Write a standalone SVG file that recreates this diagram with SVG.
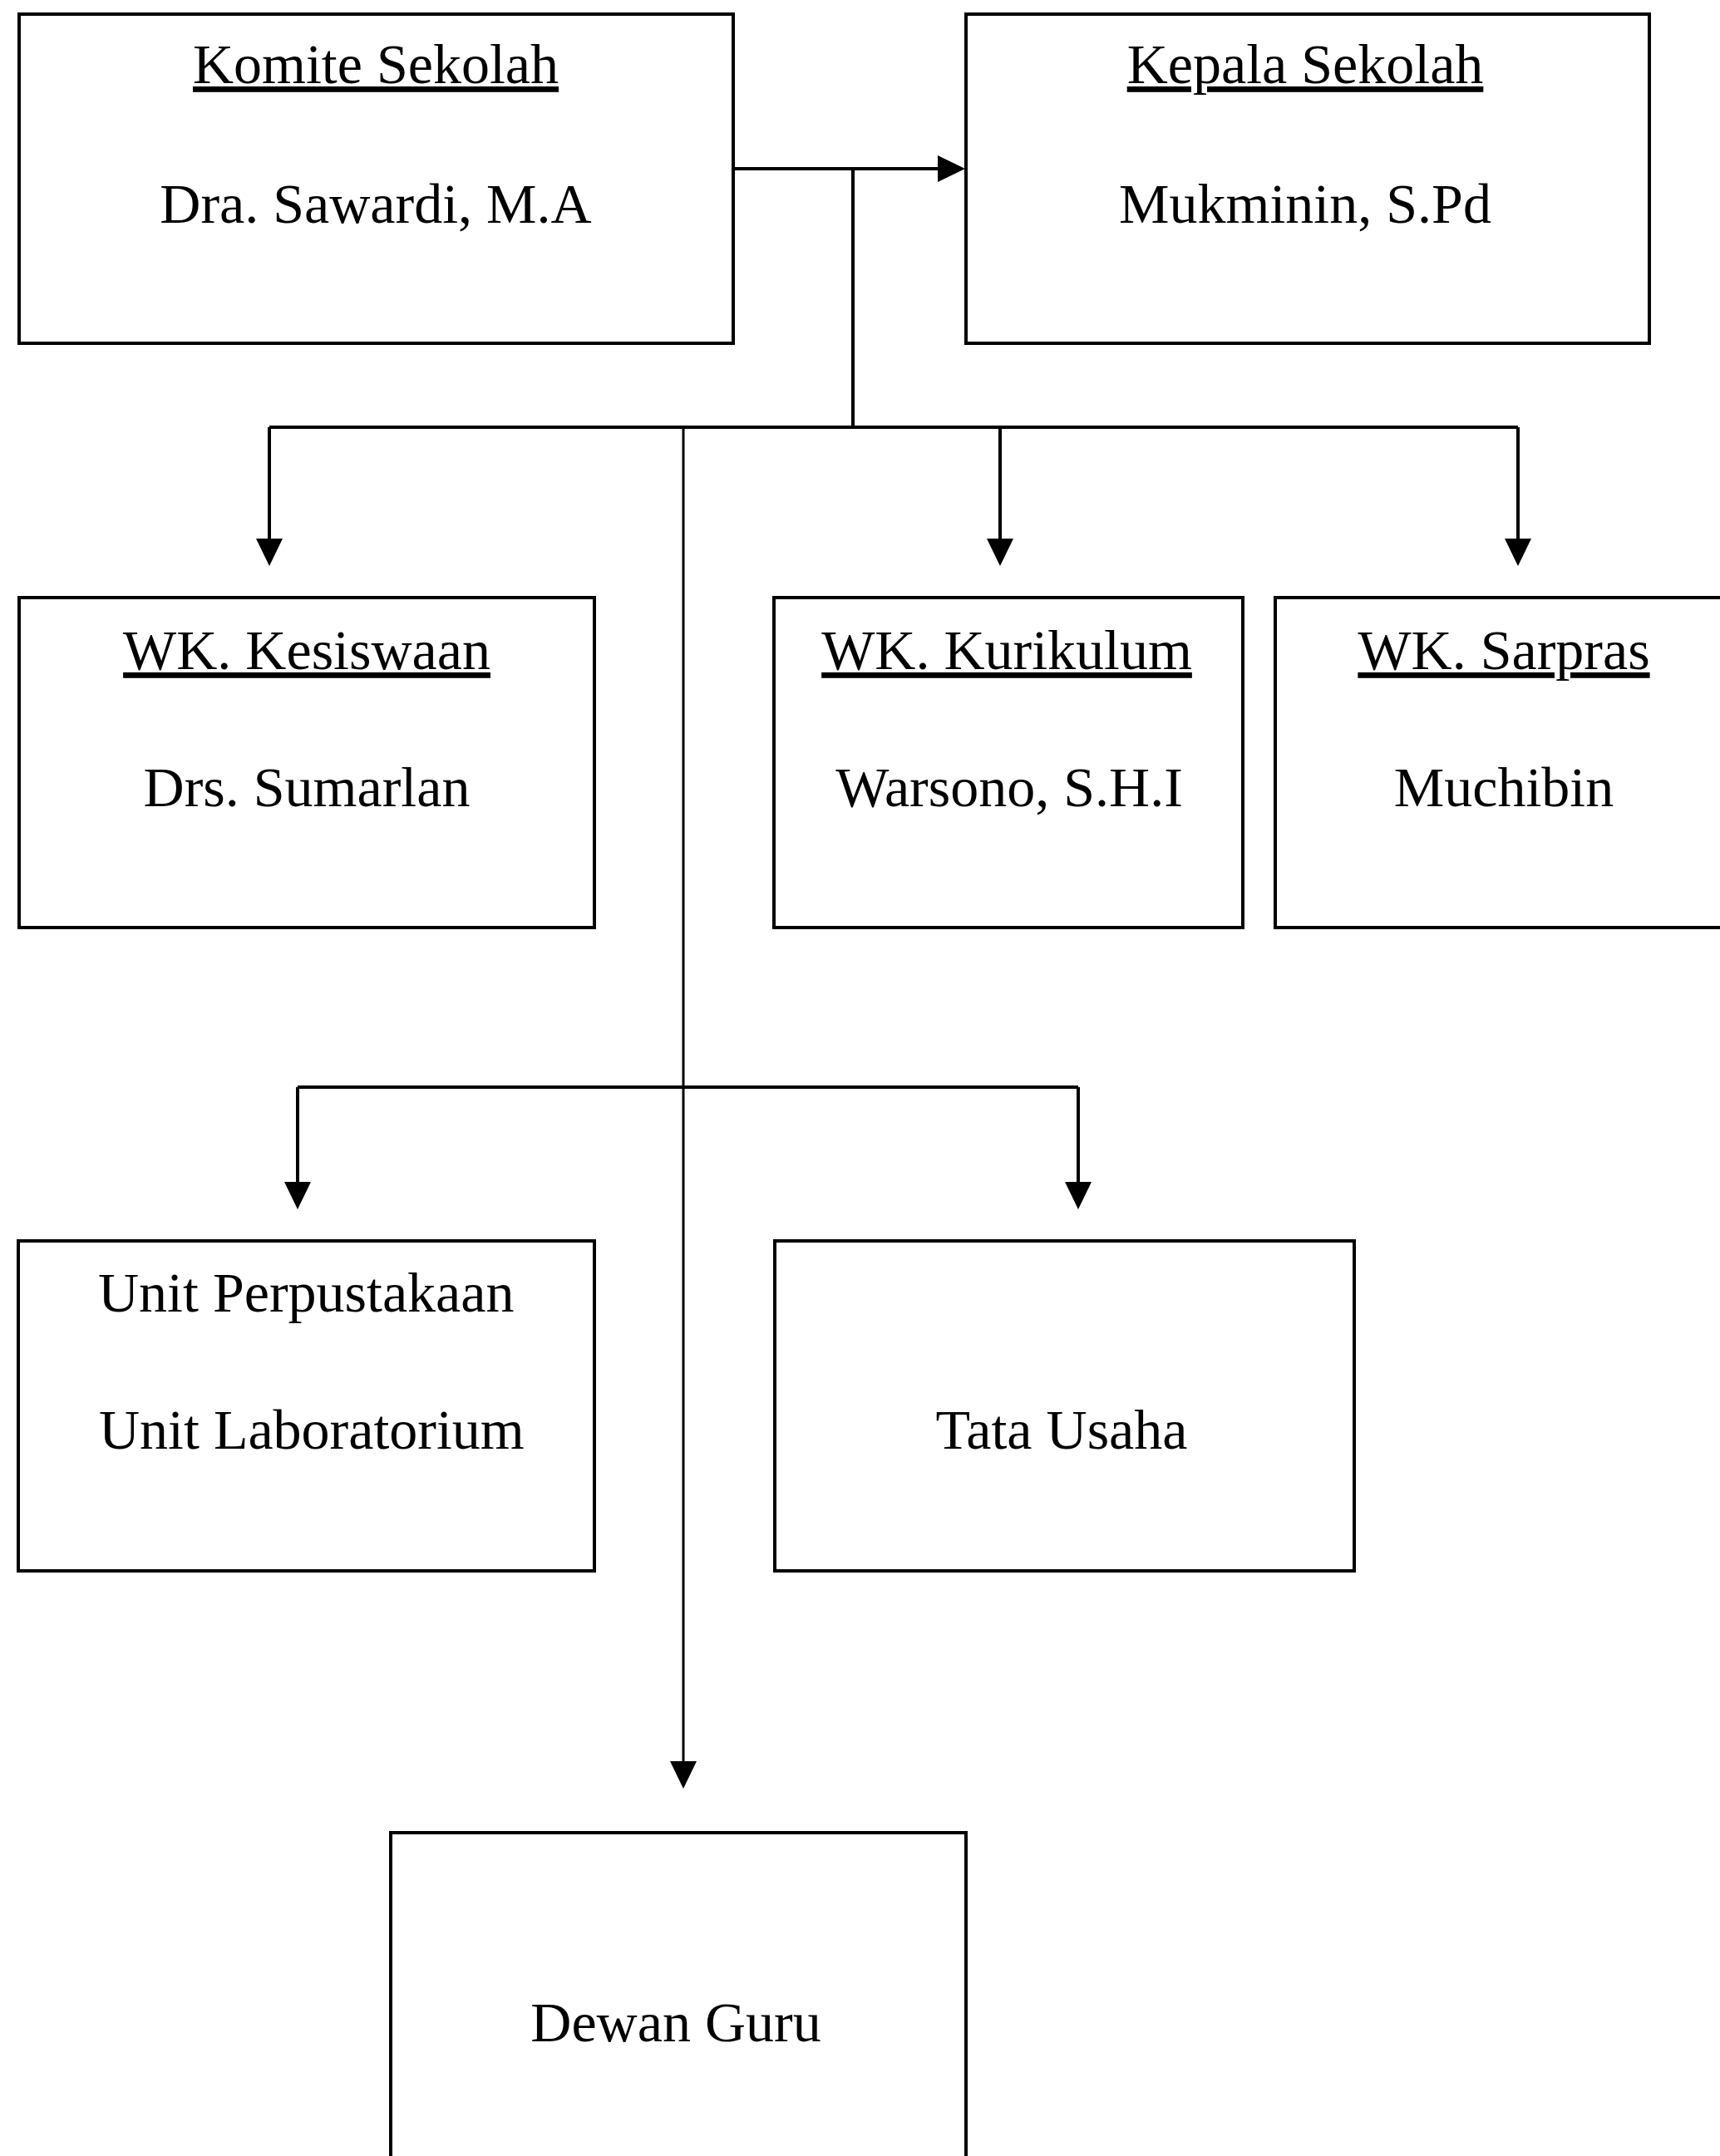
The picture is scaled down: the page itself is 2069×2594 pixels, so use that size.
<svg xmlns="http://www.w3.org/2000/svg" width="2069" height="2594" viewBox="0 0 2069 2594">
<style>
.box{fill:#fff;stroke:#000;stroke-width:4}
.t{font-family:"Liberation Serif","Times New Roman",serif;font-size:68px;fill:#000;text-anchor:middle}
.u{text-decoration:underline}
.c{fill:none;stroke:#000;stroke-width:4}
.c2{fill:none;stroke:#000;stroke-width:3}
</style>
<defs>
<marker id="ah" markerUnits="userSpaceOnUse" markerWidth="34" markerHeight="32" refX="0" refY="16" orient="auto" overflow="visible">
<path d="M0,0 L33,16 L0,32 Z" fill="#000"/>
</marker>
</defs>
<rect width="2069" height="2594" fill="#fff"/>
<g id="connectors">
<path class="c" d="M882,203 H1128" marker-end="url(#ah)"/>
<path class="c" d="M1026,203 V514"/>
<path class="c" d="M324,514 H1826"/>
<path class="c" d="M324,514 V648" marker-end="url(#ah)"/>
<path class="c" d="M1203,514 V648" marker-end="url(#ah)"/>
<path class="c" d="M1826,514 V648" marker-end="url(#ah)"/>
<path class="c2" d="M822,514 V2119" marker-end="url(#ah)"/>
<path class="c" d="M358,1308 H1297"/>
<path class="c" d="M358,1308 V1422" marker-end="url(#ah)"/>
<path class="c" d="M1297,1308 V1422" marker-end="url(#ah)"/>
</g>
<g id="komite">
<rect class="box" x="23" y="17" width="859" height="396"/>
<text class="t u" x="452" y="100">Komite Sekolah</text>
<text class="t" x="452" y="268">Dra. Sawardi, M.A</text>
</g>
<g id="kepala">
<rect class="box" x="1162" y="17" width="822" height="396"/>
<text class="t u" x="1570" y="100">Kepala Sekolah</text>
<text class="t" x="1570" y="268">Mukminin, S.Pd</text>
</g>
<g id="kesiswaan">
<rect class="box" x="23" y="719" width="692" height="397"/>
<text class="t u" x="369" y="805">WK. Kesiswaan</text>
<text class="t" x="369" y="970">Drs. Sumarlan</text>
</g>
<g id="kurikulum">
<rect class="box" x="931" y="719" width="564" height="397"/>
<text class="t u" x="1211" y="805">WK. Kurikulum</text>
<text class="t" x="1214" y="970">Warsono, S.H.I</text>
</g>
<g id="sarpras">
<rect class="box" x="1534" y="719" width="600" height="397"/>
<text class="t u" x="1809" y="805">WK. Sarpras</text>
<text class="t" x="1809" y="970">Muchibin</text>
</g>
<g id="unit">
<rect class="box" x="22" y="1493" width="693" height="397"/>
<text class="t" x="118" y="1578" text-anchor="start" style="text-anchor:start">Unit Perpustakaan</text>
<text class="t" x="119" y="1743" style="text-anchor:start">Unit Laboratorium</text>
</g>
<g id="tata-usaha">
<rect class="box" x="932" y="1493" width="697" height="397"/>
<text class="t" x="1277" y="1743">Tata Usaha</text>
</g>
<g id="dewan-guru">
<rect class="box" x="470" y="2205" width="692" height="500"/>
<text class="t" x="813" y="2456">Dewan Guru</text>
</g>
</svg>
